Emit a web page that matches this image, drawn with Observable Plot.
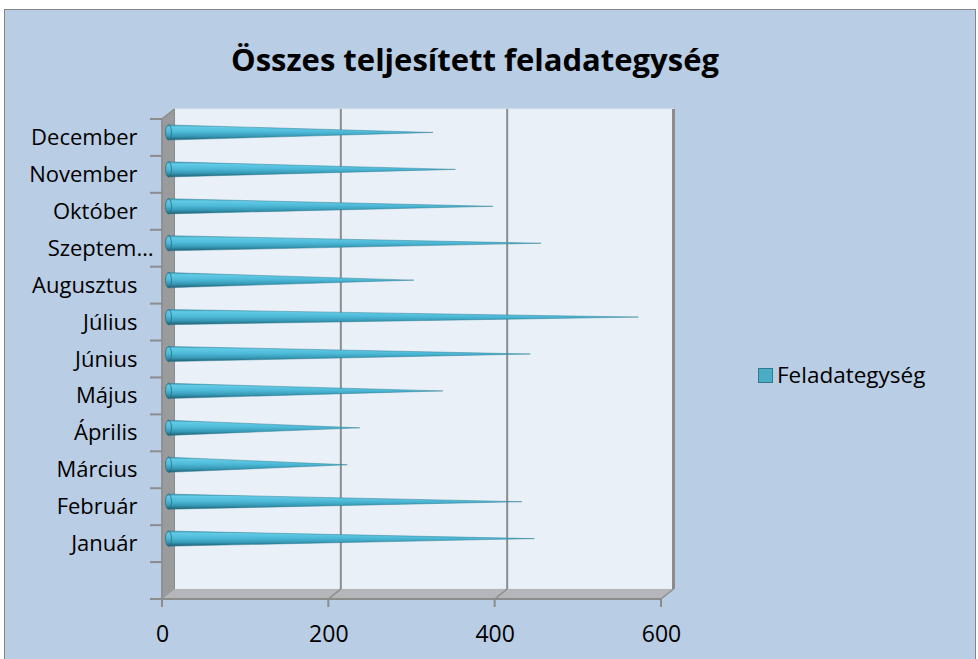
<!DOCTYPE html>
<html>
<head>
<meta charset="utf-8">
<script src="https://cdn.jsdelivr.net/npm/d3@7"></script>
<script src="https://cdn.jsdelivr.net/npm/@observablehq/plot@0.6"></script>
<style>
  html, body { margin: 0; padding: 0; background: #ffffff; }
  #chart { position: relative; width: 978px; height: 659px; overflow: hidden; background: #ffffff;
           font-family: "Open Sans", "Noto Sans", sans-serif; color: #000; }
  #bg { position: absolute; left: 4px; top: 9px; width: 972px; height: 660px; background: #b9cde5;
        border: 1px solid #868686; box-sizing: border-box; }
  #title { position: absolute; left: 0; width: 950px; top: 38px; text-align: center;
           font-weight: 700; font-size: 31px; line-height: 42px; }
  #plot { position: absolute; left: 0; top: 0; }
  #legend { position: absolute; left: 758px; top: 360px; display: flex; align-items: center;
            font-size: 22.5px; line-height: 30px; }
  #legend .sw { width: 13px; height: 13px; background: #4bacc6; border: 1px solid #31788c;
                margin-right: 4px; }
</style>
</head>
<body>
<div id="chart">
  <div id="bg"></div>
  <div id="title">Összes teljesített feladategység</div>
  <div id="plot"></div>
  <div id="legend"><div class="sw"></div><span id="legendText"></span></div>
</div>
<script>
// ---- data ----
const months = ["Január", "Február", "Március", "Április", "Május", "Június",
                "Július", "Augusztus", "Szeptem…", "Október", "November", "December"];
const values = [440, 425, 215, 230, 330, 435, 565, 295, 448, 390, 345, 318];
const xTicks = [0, 200, 400, 600];
const seriesName = "Feladategység";

document.getElementById("legendText").textContent = seriesName;

// ---- layout ----
const W = 978, H = 659;
const DX = 12.5, DY = -10;        // 3D depth offset of back wall
const MX = 6.5, MY = -5;          // cone depth (middle)
const nBands = months.length + 1; // one empty category band at the bottom (as in the original)
const halfH = 0.205;              // cone half height in band units

const rows = [];
months.forEach((m, i) => {
  const c = i + 1.5;
  rows.push({m, y: c + halfH, x: 0});
  rows.push({m, y: c, x: values[i]});
  rows.push({m, y: c - halfH, x: 0});
});

function frameMark(index, scales) {
  const {x, y} = scales;
  const g = d3.create("svg:g");
  const x0 = x(0), x1 = x(xTicks[xTicks.length - 1]);
  const yb = y(0), yt = y(nBands);
  // back wall
  g.append("rect").attr("x", x0 + DX).attr("y", yt + DY).attr("width", x1 - x0).attr("height", yb - yt)
    .attr("fill", "#e9f0f8").attr("stroke", "#dfe7f0").attr("stroke-width", 1);
  // side wall
  g.append("path").attr("d", `M${x0},${yt}L${x0 + DX},${yt + DY}L${x0 + DX},${yb + DY}L${x0},${yb}Z`)
    .attr("fill", "#9a9b9d").attr("stroke", "#8c8c8c").attr("stroke-width", 1);
  // floor
  g.append("path").attr("d", `M${x0},${yb}L${x0 + DX},${yb + DY}L${x1 + DX},${yb + DY}L${x1},${yb}Z`)
    .attr("fill", "#b4b6b9").attr("stroke", "none");
  // floor front edge
  g.append("line").attr("x1", x0).attr("x2", x1).attr("y1", yb).attr("y2", yb)
    .attr("stroke", "#8c8c8c").attr("stroke-width", 2);
  // gridlines on back wall + floor connectors
  xTicks.forEach((t, k) => {
    const xx = x(t);
    if (k > 0) {
      g.append("line").attr("x1", xx + DX).attr("x2", xx + DX).attr("y1", yt + DY).attr("y2", yb + DY)
        .attr("stroke", "#8c8c8c").attr("stroke-width", k === xTicks.length - 1 ? 3 : 2);
      g.append("line").attr("x1", xx + DX).attr("x2", xx).attr("y1", yb + DY).attr("y2", yb)
        .attr("stroke", "#8c8c8c").attr("stroke-width", 1.5);
    }
    // front axis tick
    g.append("line").attr("x1", xx).attr("x2", xx).attr("y1", yb).attr("y2", yb + 8)
      .attr("stroke", "#8c8c8c").attr("stroke-width", 2);
  });
  // left (category) axis front line and ticks
  g.append("line").attr("x1", x0).attr("x2", x0).attr("y1", yt).attr("y2", yb + 8)
    .attr("stroke", "#8c8c8c").attr("stroke-width", 1.5);
  g.append("line").attr("x1", x0).attr("x2", x0 + DX).attr("y1", yt).attr("y2", yt + DY)
    .attr("stroke", "#8c8c8c").attr("stroke-width", 1.5);
  d3.range(nBands + 1).forEach(b => {
    g.append("line").attr("x1", x0 - 12).attr("x2", x0).attr("y1", y(b)).attr("y2", y(b))
      .attr("stroke", "#8c8c8c").attr("stroke-width", 2);
  });
  return g.node();
}

function coneBases(index, scales) {
  const {x, y} = scales;
  const g = d3.create("svg:g");
  months.forEach((m, i) => {
    const cy = y(i + 1.5) + MY;
    const ry = Math.abs(y(0) - y(halfH));
    g.append("ellipse").attr("cx", x(0) + MX).attr("cy", cy).attr("rx", 3).attr("ry", ry)
      .attr("fill", "url(#coneGrad)").attr("stroke", "#2a6f82").attr("stroke-width", 0.8);
  });
  return g.node();
}

// truncated (ellipsis) labels overflow further toward the axis, as in the original
const labelDx = d => d.endsWith("…") ? -9 : -25;

const svg = Plot.plot({
  width: W, height: H,
  marginLeft: 162, marginRight: W - 661, marginTop: 119, marginBottom: H - 599,
  x: {domain: [0, xTicks[xTicks.length - 1]], axis: null},
  y: {domain: [0, nBands], axis: null},
  style: {background: "transparent", overflow: "visible"},
  marks: [
    frameMark,
    Plot.areaX(rows, {y: "y", x: "x", z: "m", dx: MX, dy: MY, curve: "linear",
                      fill: "url(#coneGrad)", stroke: "#2f7d92", strokeWidth: 0.6, strokeOpacity: 0.8}),
    coneBases,
    Plot.text(months.filter(d => !d.endsWith("…")), {x: 0, y: d => months.indexOf(d) + 1.5, text: d => d,
                       dx: -25, textAnchor: "end", fontSize: 22, fill: "#000", fontFamily: "Open Sans"}),
    Plot.text(months.filter(d => d.endsWith("…")), {x: 0, y: d => months.indexOf(d) + 1.5, text: d => d,
                       dx: -9, textAnchor: "end", fontSize: 22, fill: "#000", fontFamily: "Open Sans"}),
    Plot.text(xTicks, {x: d => d, y: 0, text: d => String(d), dy: 35, textAnchor: "middle",
                       fontSize: 23, fill: "#000", fontFamily: "Open Sans"})
  ]
});

d3.select(svg).insert("defs", ":first-child").html(`
  <linearGradient id="coneGrad" x1="0" y1="0" x2="0" y2="1">
    <stop offset="0" stop-color="#3d9bb6"/>
    <stop offset="0.15" stop-color="#62cbe6"/>
    <stop offset="0.45" stop-color="#4fbbd9"/>
    <stop offset="0.75" stop-color="#3699b5"/>
    <stop offset="1" stop-color="#1f5f72"/>
  </linearGradient>`);

document.getElementById("plot").appendChild(svg);
</script>
</body>
</html>
